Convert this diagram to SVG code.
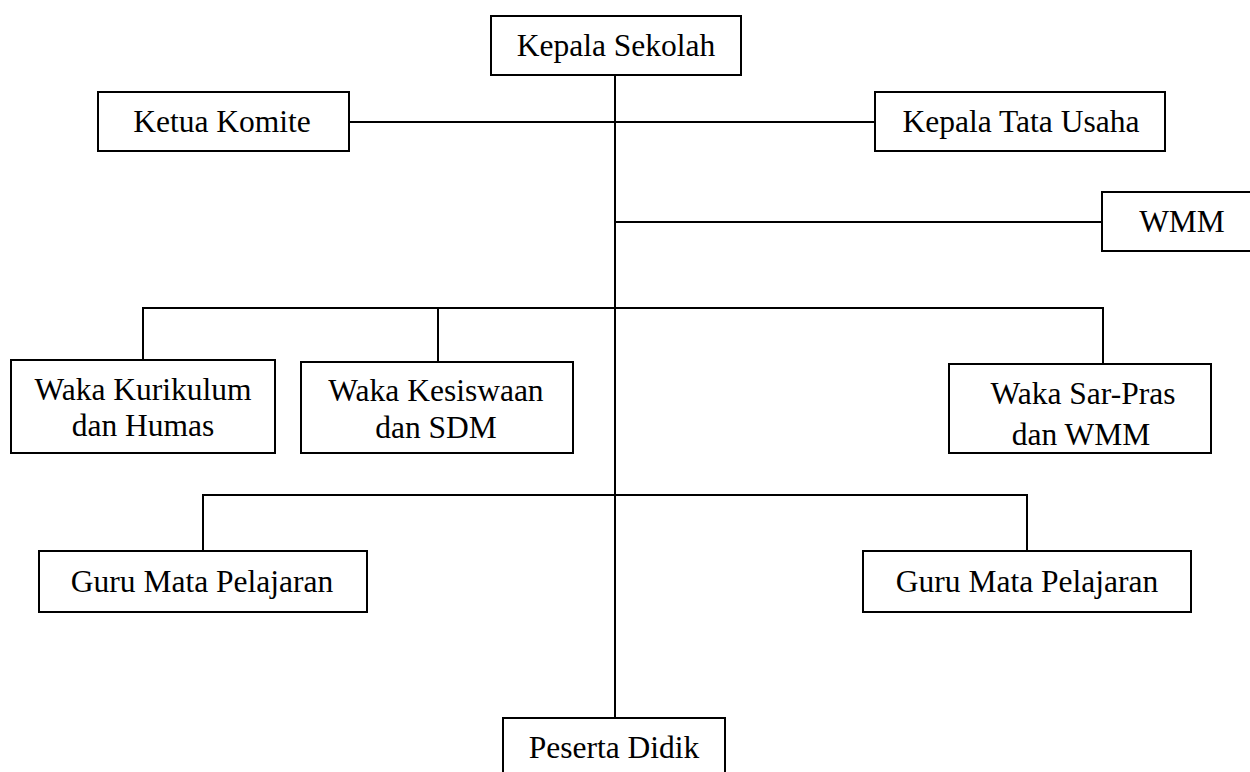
<svg xmlns="http://www.w3.org/2000/svg" width="1250" height="772" viewBox="0 0 1250 772">
<style>
.box{fill:#fff;stroke:#000;stroke-width:2}
.t{font-family:"Liberation Serif","Times New Roman",serif;font-size:31.5px;fill:#000;text-anchor:middle}
.c{stroke:#000;stroke-width:2;fill:none}
</style>
<rect width="1250" height="772" fill="#fff"/>
<g id="connectors">
<line class="c" x1="615" y1="75" x2="615" y2="718"/>
<line class="c" x1="349" y1="122" x2="875" y2="122"/>
<line class="c" x1="615" y1="222" x2="1102" y2="222"/>
<polyline class="c" points="143,360 143,308 1103,308 1103,364"/>
<line class="c" x1="438" y1="308" x2="438" y2="362"/>
<polyline class="c" points="203,551 203,495 1027,495 1027,551"/>
</g>
<g id="kepala-sekolah"><rect class="box" x="491" y="16" width="250" height="59"/><text class="t" x="616" y="56">Kepala Sekolah</text></g>
<g id="ketua-komite"><rect class="box" x="98" y="92" width="251" height="59"/><text class="t" x="222" y="132">Ketua Komite</text></g>
<g id="kepala-tata-usaha"><rect class="box" x="875" y="92" width="290" height="59"/><text class="t" x="1021" y="132">Kepala Tata Usaha</text></g>
<g id="wmm"><rect class="box" x="1102" y="192" width="152" height="59"/><text class="t" x="1182" y="232">WMM</text></g>
<g id="waka-kurikulum"><rect class="box" x="11" y="360" width="264" height="93"/><text class="t" x="143" y="400">Waka Kurikulum</text><text class="t" x="143" y="436">dan Humas</text></g>
<g id="waka-kesiswaan"><rect class="box" x="301" y="362" width="272" height="91"/><text class="t" x="436" y="401">Waka Kesiswaan</text><text class="t" x="436" y="438">dan SDM</text></g>
<g id="waka-sarpras"><rect class="box" x="949" y="364" width="262" height="89"/><text class="t" x="1083" y="404">Waka Sar-Pras</text><text class="t" x="1081" y="445">dan WMM</text></g>
<g id="guru-1"><rect class="box" x="39" y="551" width="328" height="61"/><text class="t" x="202" y="592">Guru Mata Pelajaran</text></g>
<g id="guru-2"><rect class="box" x="863" y="551" width="328" height="61"/><text class="t" x="1027" y="592">Guru Mata Pelajaran</text></g>
<g id="peserta-didik"><rect class="box" x="503" y="718" width="222" height="70"/><text class="t" x="614" y="758">Peserta Didik</text></g>
</svg>
